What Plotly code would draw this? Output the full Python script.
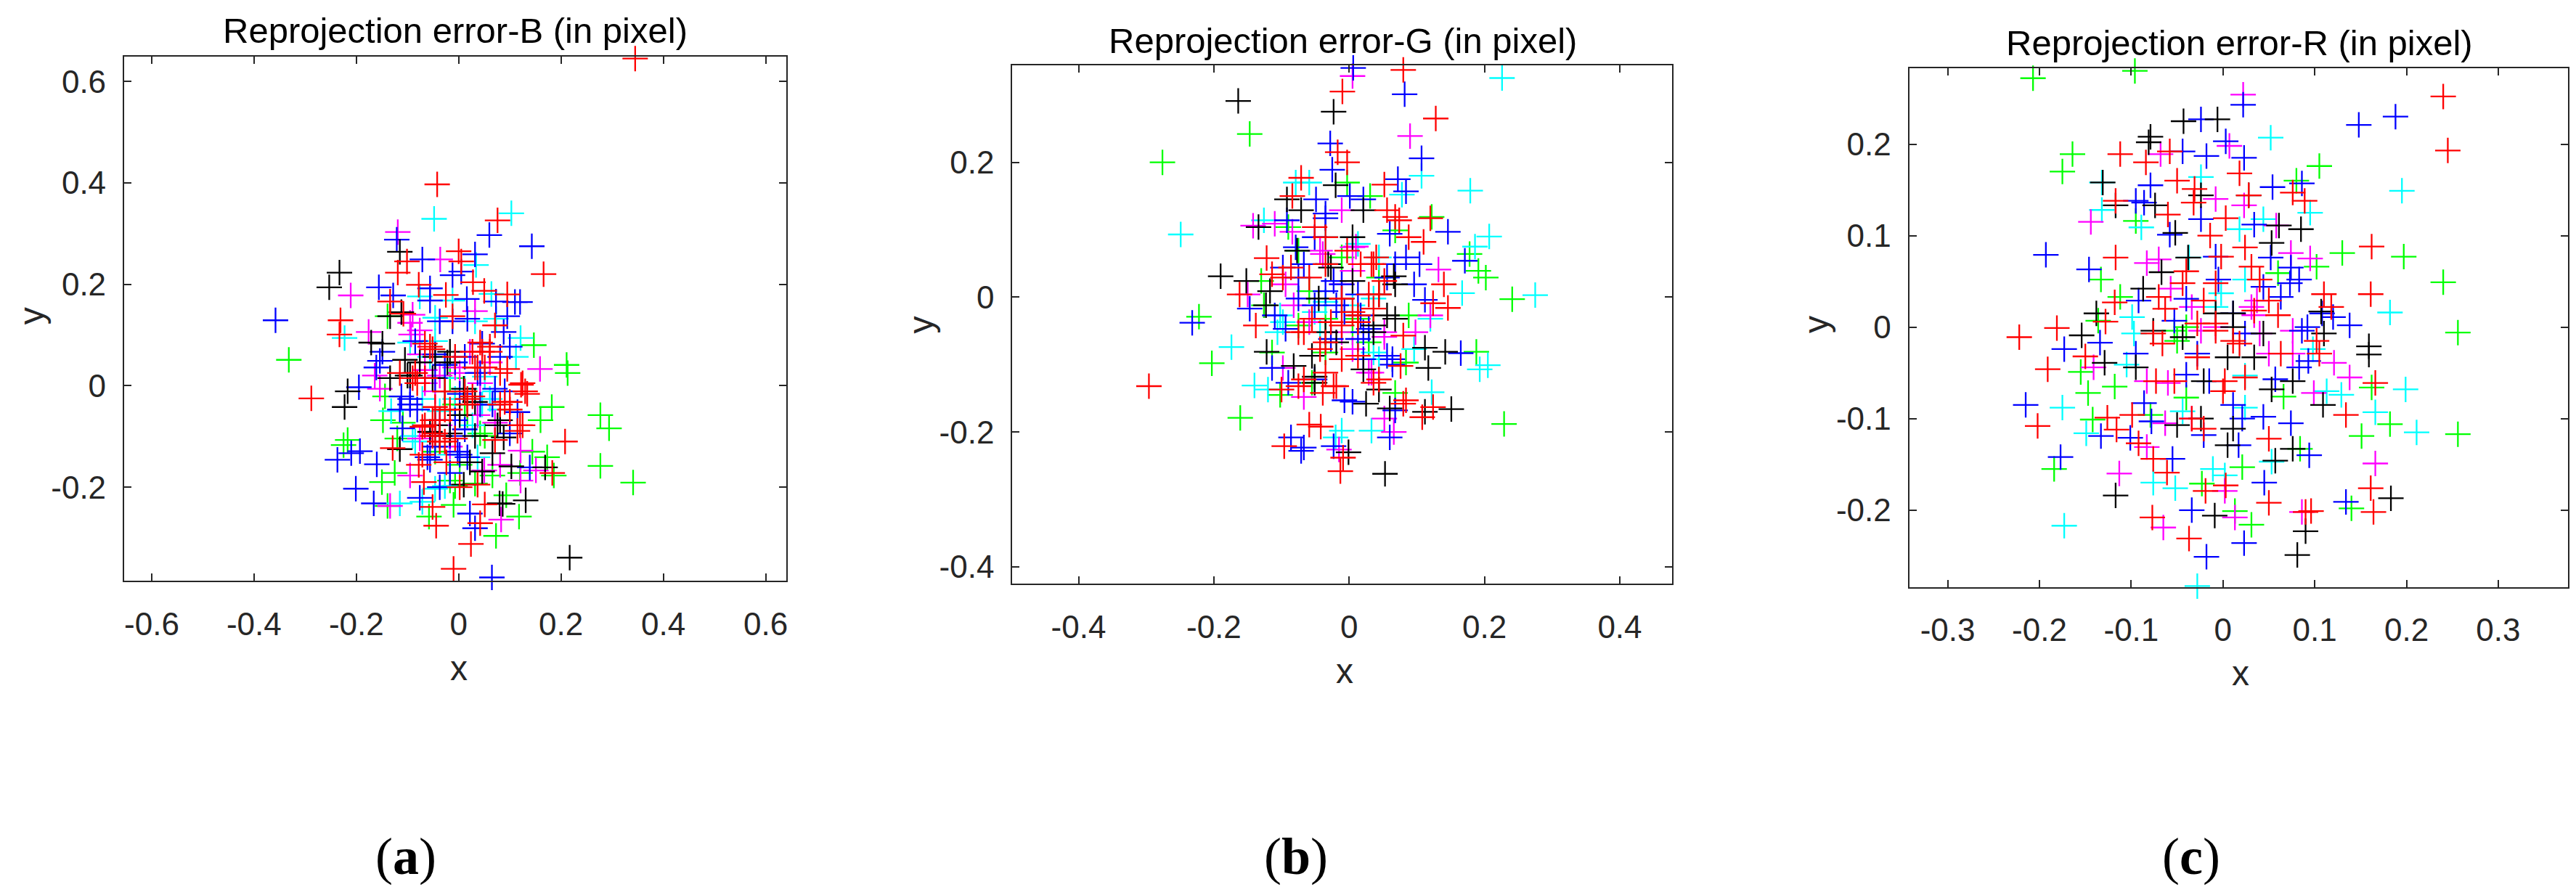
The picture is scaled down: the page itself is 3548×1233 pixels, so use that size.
import plotly.graph_objects as go

W, H = 3548, 1233

# ---------------- data: reprojection errors (x, y) per image colour ----------------
# Panel (a) Reprojection error-B
A_RED = [(-0.042,0.397),(0.076,0.326),(0.000,0.265),(0.005,0.245),(-0.101,0.245),(-0.119,0.223),(0.166,0.220),
         (-0.078,0.199),(0.028,0.204),(-0.025,0.179),(0.050,0.187),(0.095,0.180),(-0.134,0.166),(-0.012,0.137),
         (-0.231,0.129),(-0.233,0.101),(-0.108,0.142),(0.071,0.119),(0.042,0.085),(0.061,0.077),(-0.056,0.077),
         (0.095,0.033),(0.032,0.036),(-0.085,0.025),(0.122,0.002),(0.134,-0.016),(-0.288,-0.025),(0.090,-0.032),
         (-0.027,-0.011),(0.012,-0.011),(-0.046,-0.042),(0.125,-0.078),(-0.071,-0.081),(-0.046,-0.094),(0.208,-0.110),
         (-0.129,-0.123),(-0.078,-0.156),(-0.037,-0.110),(0.071,-0.107),(0.002,-0.200),(-0.068,-0.190),(0.037,-0.195),
         (0.051,-0.234),(-0.051,-0.239),(-0.044,-0.276),(0.042,-0.271),(0.024,-0.312),(-0.010,-0.361),(0.183,-0.172),
         (-0.024,-0.151),(0.345,0.645),(0.046,0.067),(0.051,0.036),(0.017,-0.026),(0.081,-0.037),(-0.066,0.015),
         (-0.027,-0.047),(-0.051,-0.068),(-0.007,-0.104),(0.100,-0.032),
         (-0.066,0.083),(-0.051,0.072),(-0.007,0.057),(0.061,0.067),(0.081,0.025),(0.125,0.005),(0.130,-0.011),
         (0.100,-0.047),(0.017,-0.037),(0.027,-0.021),(-0.017,-0.047),(-0.037,-0.068),(-0.066,-0.078),(-0.051,-0.099),
         (-0.027,-0.110),(-0.071,-0.136),(-0.090,0.015),(-0.081,0.005),(-0.115,0.025),(0.120,-0.078),(0.115,-0.089),
         (0.027,0.067),(0.037,0.036)]
A_GREEN = [(-0.332,0.051),(0.147,0.080),(0.211,0.041),(0.213,0.025),(0.182,-0.042),(0.160,-0.068),(0.277,-0.058),
           (0.294,-0.084),(0.277,-0.158),(0.341,-0.191),(0.173,-0.141),(0.144,-0.130),(0.186,-0.177),(-0.148,-0.068),
           (-0.109,-0.073),(-0.217,-0.107),(-0.225,-0.117),(-0.125,-0.172),(-0.150,-0.190),(-0.139,-0.237),(-0.010,-0.235),
           (-0.058,-0.258),(0.093,-0.216),(0.118,-0.258),(0.073,-0.296),(0.066,-0.177),(0.120,-0.172),(-0.139,0.137),
           (-0.120,-0.104),(-0.007,-0.198),(-0.144,-0.021),(0.012,-0.037),(-0.017,0.015),(0.042,-0.094),(-0.017,-0.187),
           (-0.007,-0.037),(0.017,-0.058),(0.051,-0.099),(-0.046,-0.130),(0.002,-0.156),(0.032,-0.193)]
A_BLUE = [(-0.358,0.129),(0.060,0.297),(0.143,0.275),(-0.121,0.288),(-0.071,0.249),(0.032,0.259),(-0.012,0.218),
          (0.005,0.225),(-0.156,0.194),(-0.128,0.178),(-0.056,0.192),(-0.056,0.168),(0.073,0.166),(0.120,0.165),
          (0.110,0.165),(0.016,0.171),(0.095,0.137),(-0.037,0.127),(-0.012,0.127),(0.017,0.132),(0.088,0.106),
          (0.100,0.077),(0.046,0.083),(-0.149,0.067),(-0.154,0.049),(-0.161,0.036),(-0.195,-0.003),(-0.112,-0.021),
          (-0.095,-0.037),(-0.046,0.015),(-0.007,0.046),(0.002,-0.016),(0.066,-0.037),(0.115,-0.052),(0.090,-0.011),
          (-0.110,-0.084),(-0.081,-0.047),(-0.046,-0.068),(0.012,-0.086),(-0.056,-0.146),(0.002,-0.136),(-0.017,-0.172),
          (-0.193,-0.129),(-0.210,-0.133),(-0.237,-0.146),(-0.160,-0.155),(-0.201,-0.203),(-0.166,-0.232),(-0.037,-0.200),
          (0.022,-0.252),(0.032,-0.281),(0.065,-0.378),(0.139,-0.161),(0.100,-0.094),(-0.076,-0.221),(0.042,0.025),
          (-0.085,0.088),
          (-0.046,0.062),(-0.027,0.041),(0.012,0.057),(0.037,0.025),(0.042,-0.037),(-0.007,-0.068),(-0.017,-0.099),
          (-0.046,-0.120),(-0.061,-0.141),(-0.002,-0.130),(0.017,-0.141),(-0.095,-0.026),(-0.115,-0.047),(0.071,-0.006),
          (0.081,0.057)]
A_CYAN = [(-0.048,0.329),(0.103,0.340),(0.034,0.238),(0.064,0.181),(-0.012,0.168),(-0.076,0.176),(-0.046,0.134),
          (0.032,0.127),(0.073,0.132),(-0.223,0.094),(0.121,0.094),(0.112,0.057),(-0.095,0.085),(-0.046,0.088),
          (-0.132,-0.050),(-0.071,-0.026),(0.051,0.018),(0.046,-0.037),(0.027,-0.078),(0.081,-0.047),(-0.085,-0.110),
          (0.037,-0.141),(-0.046,-0.203),(-0.027,-0.198),(-0.115,-0.232),(-0.071,-0.229),(-0.037,-0.050),(-0.007,-0.026),
          (-0.056,0.057),(-0.027,0.015),(0.012,-0.006),(0.071,-0.011),(0.061,-0.026),(-0.090,-0.099),(-0.017,-0.136)]
A_MAGENTA = [(-0.119,0.303),(-0.036,0.249),(-0.211,0.178),(0.032,0.147),(-0.176,0.106),(-0.093,0.101),(-0.090,0.140),
             (0.159,0.033),(-0.164,0.020),(-0.154,-0.006),(-0.066,0.005),(-0.046,-0.011),(-0.007,0.036),(0.061,0.046),
             (0.071,-0.073),(-0.037,-0.078),(-0.095,-0.177),(0.050,-0.167),(0.081,-0.156),(0.121,-0.128),(0.121,-0.187),
             (0.151,-0.167),(-0.134,-0.237),(0.083,-0.264),(-0.076,0.062),(0.022,0.067),(-0.076,-0.104),
             (-0.095,0.124),(-0.076,0.109),(-0.066,0.031),(-0.037,0.020),(0.002,0.025),(0.042,0.005),(0.037,-0.058),
             (-0.056,-0.099),(-0.017,-0.120)]
A_BLACK = [(-0.233,0.223),(-0.253,0.194),(-0.115,0.264),(-0.112,0.145),(-0.134,0.137),(-0.171,0.085),(-0.149,0.083),
           (-0.217,-0.011),(-0.223,-0.042),(-0.134,0.015),(-0.100,0.020),(-0.105,0.051),(-0.022,0.046),(0.010,-0.006),
           (0.032,-0.099),(-0.056,-0.091),(0.088,-0.102),(0.081,-0.068),(-0.115,-0.125),(0.066,-0.133),(0.103,-0.159),
           (0.169,-0.161),(0.046,-0.169),(0.010,-0.195),(0.080,-0.232),(0.086,-0.233),(0.131,-0.226),(0.217,-0.339),
           (-0.017,-0.094),(0.022,-0.151),
           (-0.046,0.057),(-0.017,0.067),(-0.076,0.046),(-0.095,0.020),(-0.051,0.015),(-0.027,-0.011),(0.032,-0.032),
           (-0.046,-0.078),(-0.037,-0.099),(0.002,-0.058),(0.076,-0.078)]

# Panel (b) Reprojection error-G
B_RED = [(0.080,0.337),(-0.010,0.305),(0.128,0.265),(-0.017,0.215),(-0.003,0.200),(-0.071,0.177),(0.052,0.167),
         (-0.084,0.150),(0.056,0.129),(0.074,0.114),(0.120,0.117),(0.110,0.082),(-0.122,0.058),(0.036,0.049),
         (0.140,0.019),(0.146,-0.016),(0.124,-0.009),(-0.162,0.004),(-0.138,-0.042),(-0.296,-0.132),(-0.059,0.029),
         (-0.035,0.049),(-0.011,-0.002),(0.013,-0.027),(0.044,0.004),(-0.067,-0.052),(-0.035,-0.067),(0.013,-0.087),
         (0.080,-0.057),(0.080,-0.158),(0.108,-0.178),(0.124,-0.163),(0.076,-0.102),(-0.100,-0.137),(-0.075,-0.132),
         (-0.023,-0.132),(-0.059,-0.189),(-0.042,-0.192),(-0.096,-0.221),(-0.009,-0.238),(-0.013,-0.258),(0.044,-0.122),
         (-0.039,-0.142),(-0.011,-0.042),(0.033,0.049),(-0.114,0.034),
         (-0.051,0.104),(-0.035,0.089),(-0.003,0.069),(0.017,0.049),(0.040,0.059),(0.052,0.024),(0.029,0.004),
         (0.005,-0.022),(0.013,-0.037),(0.036,-0.017),(-0.027,-0.037),(-0.055,-0.032),(-0.075,-0.052),(-0.043,-0.077),
         (-0.011,-0.092),(-0.035,-0.112),(-0.019,-0.132),(-0.067,-0.122),(-0.086,0.044),(-0.098,0.029),(0.088,0.089),
         (0.068,0.119),(0.084,-0.153),(0.036,-0.127)]
B_GREEN = [(-0.276,0.200),(-0.147,0.242),(-0.003,0.170),(0.031,0.150),(0.122,0.119),(0.178,0.064),(0.191,0.039),
           (0.202,0.029),(0.241,-0.003),(0.229,-0.188),(0.188,-0.081),(-0.222,-0.029),(-0.203,-0.098),(-0.161,-0.179),
           (-0.130,0.024),(-0.126,-0.012),(-0.090,0.104),(-0.075,-0.042),(0.029,-0.067),(0.084,-0.097),(0.088,-0.027),
           (-0.114,-0.082),(-0.102,-0.145),(0.068,-0.142),(-0.035,-0.032),(0.068,0.099),(-0.055,-0.127),(0.005,-0.052),
           (-0.059,0.009),(-0.011,0.059),(0.044,0.029),(0.013,-0.032),(-0.035,-0.082),(-0.075,0.069)]
B_BLUE = [(0.006,0.340),(0.082,0.301),(-0.028,0.228),(0.107,0.206),(-0.025,0.189),(0.072,0.175),(0.084,0.157),
          (-0.049,0.145),(0.001,0.150),(0.021,0.145),(-0.035,0.117),(-0.092,0.114),(0.146,0.097),(0.060,0.094),
          (-0.079,0.074),(0.084,0.059),(0.104,0.049),(0.171,0.054),(-0.098,0.044),(-0.023,0.024),(0.096,0.019),
          (0.112,-0.004),(-0.232,-0.038),(-0.147,-0.017),(-0.075,-0.002),(-0.051,-0.012),(-0.007,-0.022),(-0.110,-0.027),
          (-0.094,-0.047),(0.056,-0.087),(0.165,-0.083),(0.021,-0.052),(0.064,-0.100),(-0.114,-0.105),(-0.090,-0.127),
          (0.005,-0.155),(0.068,-0.168),(0.060,-0.208),(-0.086,-0.208),(-0.071,-0.228),(-0.067,-0.223),(-0.023,-0.221),
          (-0.051,-0.122),(-0.027,-0.062),(0.017,-0.027),
          (-0.035,0.009),(-0.019,-0.012),(-0.011,0.019),(0.013,0.004),(0.029,-0.047),(0.013,-0.062),(0.021,-0.092),
          (0.064,-0.092),(0.068,0.049),(0.056,0.029),(-0.067,0.049),(-0.075,0.029),(-0.035,0.124),(-0.051,0.089),
          (-0.007,-0.153)]
B_CYAN = [(0.226,0.325),(0.107,0.180),(0.179,0.158),(0.078,0.152),(-0.079,0.170),(-0.059,0.170),(-0.249,0.093),
          (0.207,0.090),(0.186,0.075),(0.167,0.006),(0.275,0.003),(-0.174,-0.074),(0.120,-0.032),(0.193,-0.107),
          (0.205,-0.101),(0.122,-0.141),(-0.140,-0.131),(-0.120,-0.137),(0.033,-0.198),(-0.020,-0.208),(-0.110,-0.426),
          (-0.106,-0.052),(-0.102,-0.027),(-0.035,-0.007),(0.044,-0.092),(0.036,-0.002),(0.013,0.079),(-0.035,0.089),
          (-0.126,0.114),(0.096,-0.077),(-0.011,-0.198),
          (-0.051,-0.022),(0.005,-0.012),(0.044,0.059),(-0.098,-0.037),(-0.043,-0.052),(0.036,-0.082)]
B_MAGENTA = [(0.005,0.328),(0.090,0.239),(-0.142,0.106),(-0.110,0.109),(-0.084,0.097),(-0.011,0.129),(0.010,0.075),
             (0.132,0.041),(-0.150,0.004),(-0.094,0.019),(-0.039,0.064),(-0.011,0.019),(0.005,0.039),(0.120,-0.027),
             (0.098,-0.052),(0.052,-0.059),(-0.098,-0.105),(0.005,-0.077),(0.052,-0.180),(0.066,-0.200),(-0.067,-0.148),
             (-0.015,-0.226),(-0.082,-0.012),(0.033,-0.112),
             (0.005,0.074),(-0.011,-0.052),(0.052,-0.052),(-0.043,0.069),(-0.059,-0.037),(0.029,-0.112)]
B_BLACK = [(-0.164,0.291),(-0.023,0.275),(-0.020,0.166),(-0.092,0.145),(-0.071,0.129),(-0.134,0.104),(0.021,0.129),
           (-0.190,0.031),(-0.152,0.024),(-0.117,0.009),(-0.123,-0.012),(-0.077,0.069),(-0.027,0.044),(0.005,0.089),
           (0.066,0.031),(0.068,0.019),(-0.045,-0.002),(0.044,0.004),(0.056,-0.027),(-0.122,-0.081),(-0.055,-0.087),
           (0.112,-0.075),(0.142,-0.081),(0.117,-0.105),(0.021,-0.107),(-0.051,-0.127),(0.044,-0.137),(0.025,-0.158),
           (0.060,-0.165),(0.112,-0.170),(0.151,-0.166),(-0.001,-0.230),(0.053,-0.262),(-0.019,-0.067),(0.036,-0.052),
           (-0.031,0.049),(-0.011,-0.002),(0.005,0.024),(0.036,-0.042),(-0.035,-0.052),(-0.051,-0.118),(0.068,-0.032),
           (-0.082,-0.102)]

# Panel (c) Reprojection error-R
C_RED = [(0.240,0.252),(0.245,0.193),(-0.112,0.189),(-0.084,0.180),(-0.058,0.192),(-0.050,0.160),(0.018,0.168),
         (-0.117,0.138),(-0.031,0.151),(0.028,0.144),(0.076,0.147),(0.089,0.138),(-0.032,0.136),(-0.060,0.123),
         (0.003,0.119),(-0.014,0.100),(0.162,0.088),(-0.117,0.076),(0.024,0.087),(-0.002,0.077),(-0.040,0.061),
         (0.040,0.052),(0.161,0.036),(0.110,0.036),(0.118,0.022),(-0.181,-0.001),(-0.222,-0.011),(-0.128,0.006),
         (-0.191,-0.046),(-0.150,-0.032),(-0.118,0.027),(-0.063,0.020),(-0.070,0.033),(-0.028,0.004),(-0.008,-0.004),
         (0.034,0.018),(0.060,0.013),(0.102,-0.015),(0.105,-0.029),(-0.076,-0.007),(-0.066,-0.018),(-0.028,-0.033),
         (0.063,-0.029),(-0.202,-0.108),(-0.126,-0.099),(-0.116,-0.112),(-0.099,-0.096),(-0.073,-0.059),(-0.053,-0.059),
         (0.002,-0.059),(0.134,-0.096),(0.166,-0.061),(0.050,-0.122),(-0.021,-0.111),(-0.034,-0.100),(-0.092,-0.127),
         (-0.076,-0.144),(-0.061,-0.159),(-0.019,-0.179),(0.003,-0.173),(0.050,-0.192),(0.161,-0.176),(0.164,-0.202),
         (0.090,-0.202),(0.096,-0.201),(-0.077,-0.208),(-0.037,-0.231),(0.000,-0.070),(0.018,-0.018),(-0.008,0.048),
         (-0.008,0.004),(0.011,-0.015),(0.031,0.066),(0.050,0.029),(-0.021,0.029),(-0.044,0.048),(0.024,-0.055)]
C_GREEN = [(-0.207,0.272),(-0.096,0.280),(-0.164,0.189),(-0.175,0.170),(0.105,0.176),(0.080,0.160),(0.130,0.081),
           (0.197,0.077),(0.240,0.049),(0.256,-0.006),(0.256,-0.117),(0.182,-0.106),(0.151,-0.119),(0.140,-0.198),
           (0.162,-0.066),(-0.133,0.052),(-0.136,0.007),(-0.155,-0.049),(-0.118,-0.065),(-0.147,-0.072),(-0.142,-0.101),
           (-0.184,-0.155),(-0.095,0.116),(0.102,0.066),(-0.112,0.033),(-0.053,-0.004),(-0.040,-0.077),(0.066,-0.076),
           (0.021,-0.153),(-0.023,-0.171),(0.031,-0.216),(0.013,-0.201),(0.084,-0.133),(0.060,0.059),(-0.079,-0.096),
           (-0.040,0.000),(-0.050,-0.015)]
C_BLUE = [(0.022,0.243),(-0.024,0.227),(0.148,0.221),(0.188,0.230),(0.003,0.203),(-0.044,0.192),(-0.018,0.187),
          (0.023,0.185),(-0.079,0.155),(0.054,0.153),(0.086,0.157),(-0.095,0.138),(-0.086,0.136),(-0.193,0.079),
          (-0.146,0.063),(-0.058,0.101),(-0.024,0.118),(0.034,0.112),(0.052,0.076),(0.074,0.065),(0.073,0.048),
          (0.083,0.052),(0.063,0.033),(-0.005,0.052),(-0.092,0.029),(-0.040,0.031),(0.011,0.015),(0.108,0.015),
          (0.120,0.011),(0.138,0.002),(-0.173,-0.024),(-0.134,-0.017),(-0.095,-0.029),(0.086,-0.004),(0.092,0.000),
          (-0.215,-0.085),(-0.086,-0.083),(-0.040,-0.052),(-0.015,-0.059),(0.024,-0.007),(0.057,-0.057),(0.083,-0.044),
          (0.093,-0.037),(-0.133,-0.119),(-0.101,-0.121),(-0.078,-0.103),(-0.055,-0.144),(-0.021,-0.118),(0.021,-0.100),
          (0.044,-0.098),(0.074,-0.105),(0.094,-0.140),(-0.177,-0.142),(0.045,-0.170),(-0.034,-0.200),(0.023,-0.236),
          (-0.018,-0.251),(0.134,-0.191),(0.017,-0.129),
          (-0.053,0.007),(-0.028,-0.029),(-0.008,0.077),(0.044,0.044),(0.011,-0.085)]
C_CYAN = [(0.052,0.207),(-0.024,0.164),(-0.132,0.158),(-0.132,0.128),(-0.089,0.109),(0.018,0.107),(0.195,0.149),
          (0.095,0.125),(0.044,0.118),(-0.037,0.076),(0.182,0.016),(-0.099,0.011),(-0.002,0.037),(0.199,-0.068),
          (0.166,-0.093),(0.211,-0.115),(0.113,-0.070),(0.129,-0.074),(0.098,-0.024),(-0.097,-0.007),(-0.105,-0.041),
          (-0.175,-0.088),(-0.149,-0.116),(-0.076,-0.170),(-0.052,-0.176),(-0.011,-0.155),(0.002,-0.162),(-0.173,-0.217),
          (-0.028,-0.283),(0.024,-0.053),(0.053,-0.147),(-0.044,-0.092),(0.024,-0.088),(0.024,0.052),(-0.008,0.022)]
C_MAGENTA = [(0.022,0.254),(0.007,0.198),(-0.068,0.189),(-0.144,0.115),(-0.008,0.140),(0.023,0.133),(0.058,0.111),
             (0.074,0.081),(0.095,0.075),(-0.083,0.070),(-0.070,0.074),(-0.057,0.042),(-0.034,0.022),(0.037,0.029),
             (0.034,0.013),(0.076,-0.004),(0.121,-0.039),(0.138,-0.055),(0.050,-0.029),(0.076,-0.029),(-0.024,-0.004),
             (-0.141,-0.044),(-0.083,-0.059),(-0.060,-0.061),(0.099,-0.072),(-0.034,-0.100),(-0.063,-0.105),(-0.083,-0.131),
             (0.166,-0.149),(-0.113,-0.160),(0.002,-0.179),(0.013,-0.208),(-0.065,-0.219),(0.086,-0.202),
             (0.031,0.022),(0.040,-0.007),(-0.008,0.000)]
C_BLACK = [(-0.043,0.225),(-0.006,0.227),(-0.079,0.208),(-0.081,0.202),(-0.131,0.158),(-0.117,0.133),(-0.074,0.133),
           (-0.024,0.144),(0.028,0.144),(-0.052,0.103),(0.053,0.092),(0.061,0.111),(0.085,0.107),(-0.038,0.076),
           (-0.067,0.060),(-0.087,0.042),(-0.138,0.015),(-0.154,-0.009),(-0.129,-0.039),(-0.095,-0.044),(-0.076,-0.004),
           (-0.044,-0.011),(0.011,0.000),(0.044,-0.007),(0.107,0.017),(0.110,-0.007),(0.159,-0.021),(0.159,-0.030),
           (0.034,-0.033),(0.005,-0.033),(0.076,-0.059),(0.053,-0.068),(0.109,-0.085),(-0.024,-0.100),(-0.050,-0.107),
           (0.011,-0.111),(0.005,-0.129),(0.076,-0.133),(0.057,-0.146),(-0.117,-0.184),(-0.009,-0.206),(0.183,-0.187),
           (0.090,-0.223),(0.081,-0.249),(-0.021,-0.059),(-0.008,0.015),(0.011,0.015)]

# axis ranges and ticks
A_XRANGE = [-0.654, 0.641]; A_YRANGE = [-0.384, 0.649]
B_XRANGE = [-0.498, 0.477]; B_YRANGE = [-0.4245, 0.344]
C_XRANGE = [-0.342, 0.376]; C_YRANGE = [-0.284, 0.283]
A_XTICKS = [-0.6, -0.4, -0.2, 0, 0.2, 0.4, 0.6]; A_YTICKS = [-0.2, 0, 0.2, 0.4, 0.6]
B_XTICKS = [-0.4, -0.2, 0, 0.2, 0.4]; B_YTICKS = [-0.4, -0.2, 0, 0.2]
C_XTICKS = [-0.3, -0.2, -0.1, 0, 0.1, 0.2, 0.3]; C_YTICKS = [-0.2, -0.1, 0, 0.1, 0.2]
TITLES = ["Reprojection error-B (in pixel)", "Reprojection error-G (in pixel)", "Reprojection error-R (in pixel)"]
PANEL_LABELS = ["(<b>a</b>)", "(<b>b</b>)", "(<b>c</b>)"]

COLORS = {"green": "#00FF00", "cyan": "#00FFFF", "magenta": "#FF00FF",
          "blue": "#0000FF", "black": "#000000", "red": "#FF0000"}

panels = [
    dict(series={"green": A_GREEN, "cyan": A_CYAN, "magenta": A_MAGENTA, "blue": A_BLUE, "black": A_BLACK, "red": A_RED},
         xr=A_XRANGE, yr=A_YRANGE, xt=A_XTICKS, yt=A_YTICKS, box=(163, 1076, 70, 793),
         title=(619, 34), xlab=(624, 914), ylab=(35, 428), plab=(551, 1174)),
    dict(series={"green": B_GREEN, "cyan": B_CYAN, "magenta": B_MAGENTA, "blue": B_BLUE, "black": B_BLACK, "red": B_RED},
         xr=B_XRANGE, yr=B_YRANGE, xt=B_XTICKS, yt=B_YTICKS, box=(1387, 2296, 82, 797),
         title=(1843, 48), xlab=(1845, 918), ylab=(1261, 440), plab=(1778, 1174)),
    dict(series={"green": C_GREEN, "cyan": C_CYAN, "magenta": C_MAGENTA, "blue": C_BLUE, "black": C_BLACK, "red": C_RED},
         xr=C_XRANGE, yr=C_YRANGE, xt=C_XTICKS, yt=C_YTICKS, box=(2623, 3531, 86, 802),
         title=(3078, 51), xlab=(3080, 921), ylab=(2495, 440), plab=(3012, 1174)),
]

AX = "#262626"
SANS = "Liberation Sans, Arial, Helvetica, sans-serif"
fig = go.Figure()
annotations = []


def fmt(v):
    return "0" if v == 0 else f"{v:g}"


for i, p in enumerate(panels):
    n = "" if i == 0 else str(i + 1)
    for cname, pts in p["series"].items():
        fig.add_trace(go.Scatter(
            x=[q[0] for q in pts], y=[q[1] for q in pts], mode="markers",
            xaxis="x" + n, yaxis="y" + n, cliponaxis=False, hoverinfo="skip",
            marker=dict(symbol="cross-thin", size=25, color=COLORS[cname],
                        line=dict(color=COLORS[cname], width=2.3))))
    l, r, t, b = p["box"]
    common = dict(showgrid=False, zeroline=False, showline=True, linecolor=AX, linewidth=2,
                  mirror="ticks", ticks="inside", ticklen=10, tickwidth=2, tickcolor=AX,
                  tickfont=dict(family=SANS, size=44, color=AX))
    fig.update_layout(**{
        "xaxis" + n: dict(domain=[l / W, r / W], range=p["xr"], tickvals=p["xt"],
                          ticktext=[fmt(v) for v in p["xt"]], anchor="y" + n,
                          ticklabelstandoff=20, **common),
        "yaxis" + n: dict(domain=[1 - b / H, 1 - t / H], range=p["yr"], tickvals=p["yt"],
                          ticktext=[fmt(v) for v in p["yt"]], anchor="x" + n,
                          ticklabelstandoff=14, **common),
    })
    annotations.append(dict(text=TITLES[i], x=p["title"][0] / W, y=1 - p["title"][1] / H,
                            xref="paper", yref="paper", showarrow=False, xanchor="center", yanchor="middle",
                            font=dict(family=SANS, size=49, color="#000000")))
    annotations.append(dict(text="x", x=p["xlab"][0] / W, y=1 - p["xlab"][1] / H,
                            xref="paper", yref="paper", showarrow=False, xanchor="center", yanchor="middle",
                            font=dict(family=SANS, size=48, color=AX)))
    annotations.append(dict(text="y", x=p["ylab"][0] / W, y=1 - p["ylab"][1] / H, textangle=-90,
                            xref="paper", yref="paper", showarrow=False, xanchor="center", yanchor="middle",
                            font=dict(family=SANS, size=48, color=AX)))
    annotations.append(dict(text=PANEL_LABELS[i], x=p["plab"][0] / W, y=1 - p["plab"][1] / H,
                            xref="paper", yref="paper", showarrow=False, xanchor="center", yanchor="middle",
                            font=dict(family="Liberation Serif, Times New Roman, serif", size=72, color="#000000")))

fig.update_layout(width=W, height=H, margin=dict(l=0, r=0, t=0, b=0), showlegend=False,
                  paper_bgcolor="white", plot_bgcolor="white", annotations=annotations)

fig.write_html("out.html")
